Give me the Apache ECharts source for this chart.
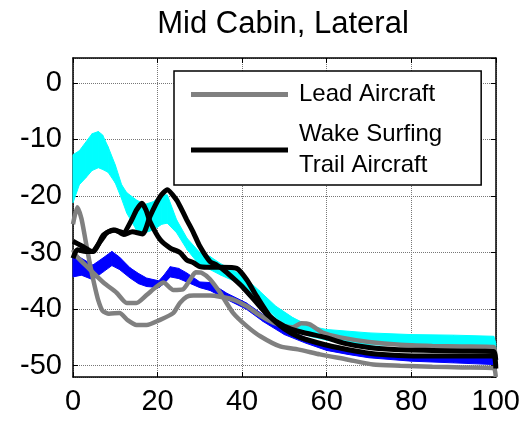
<!DOCTYPE html>
<html>
<head>
<meta charset="utf-8">
<script src="https://cdn.jsdelivr.net/npm/echarts@6/dist/echarts.min.js"></script>
<style>html,body{margin:0;padding:0;background:#fff;}#c{width:523px;height:421px;}</style>
</head>
<body>
<div id="c"></div>
<script>
const titleText = 'Mid Cabin, Lateral';
const legendLead = 'Lead Aircraft';
const legendTrail = 'Wake Surfing\nTrail Aircraft';

// Cyan band (upper / lower bounds)
const cyanX     = [0,1.5,3,4.5,6,7,8.3,10,11.5,12.7,15,17,19,21,22.3,24.5,27,30,32.4,35,38,40.3,44,48,52,56,60,65,70,80,90,99.5,100];
const cyanUpper = [-12.7,-12,-10.5,-9,-8.6,-9.2,-11.3,-14.5,-18,-19.4,-20.7,-21.5,-21,-19.8,-19.8,-24.2,-27.5,-30,-30.7,-32,-33.2,-34.2,-36.7,-39.5,-41.5,-43,-43.6,-43.9,-44.2,-44.5,-44.6,-44.8,-46];
const cyanLower = [-21.2,-18,-16.8,-15.5,-15,-15.3,-15.8,-17.7,-20.5,-23,-26,-26.5,-26,-25,-24.8,-26.5,-29.5,-32.3,-33,-34,-35,-35.7,-38.5,-41.5,-43.5,-44.8,-45.5,-46,-46.3,-46.5,-46.7,-46.8,-47.5];

// Blue band
const blueX     = [0,2,4.7,7,9.2,11,13.5,15.5,17.4,20.3,21.5,23,25,26.9,30,32.4,36.4,41,45,50,55,60,65,70,80,90,99.5,100];
const blueUpper = [-30,-31,-32.2,-31,-29.8,-30.8,-32.7,-33.7,-34.5,-35,-34,-32.5,-32.8,-33.6,-35.2,-35.3,-37.2,-38.9,-41,-43.5,-45,-46.3,-47,-47.6,-48.2,-48.3,-48.4,-49.5];
const blueLower = [-34.3,-34,-34.8,-33.5,-32.3,-33,-34.5,-35.5,-36,-36.2,-35.5,-34.3,-34.6,-35.2,-36.2,-36.7,-38.3,-40,-42.2,-44.5,-46,-47.3,-48,-48.6,-49.2,-49.5,-49.8,-50.5];

// Lead aircraft (gray) runs
const lead1X = [0,1,2,3,4,5,6,7,8.5,11,13,15,17.4,20.6,23.7,25.3,26.9,28.5,32.4,34.8,37.9,41.1,44,47.4,50,52,54,56,59.2,63.2,70,77.4,85,92,99.5,100];
const lead1Y = [-25,-22,-24,-28,-32,-35.5,-38.5,-40.3,-40.8,-40.7,-42,-42.8,-42.8,-41.9,-40.7,-38.9,-37.8,-37.6,-37.6,-37.8,-38.3,-39.5,-41,-42.4,-43,-43.2,-42.5,-42.7,-44.2,-45,-45.8,-46.3,-46.5,-46.6,-46.7,-50];
const lead2X = [0,0.9,4,7.2,10.3,12.7,15,17.4,19.8,21.4,23.7,26,27.7,29,30.5,32.4,34.8,37.9,41.1,44.3,49,53.7,58.4,64.8,71,77.4,85,92,99.5,100];
const lead2Y = [-29.5,-30.7,-33,-35.3,-37.1,-38.9,-38.9,-37.5,-36,-35.3,-36.6,-36.5,-34.8,-33.5,-33.6,-34.7,-37.1,-40.7,-43,-44.8,-46.6,-47.2,-48,-48.9,-49.8,-50,-50.2,-50.3,-50.4,-52];

// Wake surfing trail aircraft (black) runs
const trail1X = [0,2,4.5,6.5,8,10,12,14,16.5,18.2,20.6,22.3,24.5,25.3,26.9,28.5,30,32.4,34,36,38,40,43,46,50,53.7,59.6,64,70,77,85,92,99.5,100];
const trail1Y = [-28,-28.8,-29.8,-28,-26.5,-26,-26.8,-26.3,-26.7,-23.6,-20.1,-18.9,-20.7,-21.8,-24.2,-26.5,-28.9,-31.6,-32.2,-33.3,-34.6,-36,-38.5,-41,-43,-44,-45,-46,-46.8,-47.2,-47.3,-47.4,-47.5,-49];
const trail2X = [0,1,3,4.8,7.2,9.5,11.9,13.9,15,16.3,17.3,18.2,20.6,23,25.3,26.9,28.5,30,31.6,35,38.7,41.1,43.5,46.6,50,53.7,59.6,64,70,77,85,92,99.5,100];
const trail2Y = [-31,-29.5,-29.8,-29.8,-26.9,-26,-26.5,-24.2,-22.5,-21.3,-22.5,-24.5,-27.7,-29.2,-30,-31.3,-31.8,-32.5,-32.6,-32.6,-32.8,-34.8,-37.8,-41.3,-43.5,-45,-46.3,-47,-47.8,-48.2,-48.3,-48.3,-48.3,-50.5];

const xTicks = {min: 0, max: 100, step: 20};
const yRange = {min: -52, max: 4.4, step: 10};

const FONT = 'Liberation Sans, Arial, sans-serif';
const zip = (xs, ys) => xs.map((x, i) => [x, ys[i]]);

// band: one quad per segment between consecutive samples, positioned via api.coord
function band(name, xs, up, lo, color) {
  const segs = [];
  for (let i = 0; i < xs.length - 1; i++) {
    segs.push([xs[i], up[i], lo[i], xs[i + 1], up[i + 1], lo[i + 1]]);
  }
  return {
    name: name, type: 'custom', coordinateSystem: 'cartesian2d', silent: true, z: 1,
    encode: {x: [0, 3], y: [1, 2, 4, 5]},
    data: segs,
    renderItem: function (params, api) {
      const p1 = api.coord([api.value(0), api.value(1)]);
      const p2 = api.coord([api.value(3), api.value(4)]);
      const p3 = api.coord([api.value(3), api.value(5)]);
      const p4 = api.coord([api.value(0), api.value(2)]);
      return {type: 'polygon', shape: {points: [p1, p2, p3, p4]},
              style: {fill: color, stroke: color, lineWidth: 1}};
    }
  };
}
function run(name, xs, ys, color, width, z) {
  return {name: name, type: 'line', data: zip(xs, ys), symbol: 'none', smooth: 0.2,
          lineStyle: {color: color, width: width}, itemStyle: {color: color}, z: z};
}

const chart = echarts.init(document.getElementById('c'), null, {renderer: 'canvas'});
const axisCommon = {
  axisLine: {show: true, onZero: false, lineStyle: {color: '#000', width: 1.5}},
  axisTick: {show: true, inside: true, length: 5, lineStyle: {color: '#000', width: 1}},
};
chart.setOption({
  animation: false,
  backgroundColor: '#fff',
  title: {text: titleText, left: 278, top: 4, textAlign: 'center',
          textStyle: {fontFamily: FONT, fontSize: 31, fontWeight: 'normal', color: '#000'}},
  legend: {
    data: [{name: legendLead, icon: 'rect'}, {name: legendTrail, icon: 'rect'}],
    orient: 'vertical', left: 174, top: 71, itemWidth: 97, itemHeight: 5, itemGap: 9,
    padding: [8, 39, 4, 17], borderColor: '#000', borderWidth: 1.5, backgroundColor: '#fff',
    selectedMode: false,
    textStyle: {fontFamily: FONT, fontSize: 24, color: '#000', lineHeight: 31, padding: [0, 0, 0, 6]}
  },
  grid: {left: 73, right: 27, top: 58, bottom: 44, containLabel: false},
  xAxis: [
    Object.assign({type: 'value', min: xTicks.min, max: xTicks.max, interval: xTicks.step, position: 'bottom',
      axisLabel: {fontFamily: FONT, fontSize: 29, color: '#000', margin: 10},
      splitLine: {show: true, lineStyle: {color: '#777', width: 1, type: 'dotted'}}}, axisCommon),
    Object.assign({type: 'value', min: xTicks.min, max: xTicks.max, interval: xTicks.step, position: 'top',
      axisLabel: {show: false}, splitLine: {show: false}}, axisCommon)
  ],
  yAxis: [
    Object.assign({type: 'value', min: yRange.min, max: yRange.max, minInterval: yRange.step, maxInterval: yRange.step, position: 'left',
      axisLabel: {fontFamily: FONT, fontSize: 29, color: '#000', margin: 11, showMinLabel: false, showMaxLabel: false},
      splitLine: {show: true, lineStyle: {color: '#777', width: 1, type: 'dotted'}}}, axisCommon),
    Object.assign({type: 'value', min: yRange.min, max: yRange.max, minInterval: yRange.step, maxInterval: yRange.step, position: 'right',
      axisLabel: {show: false}, splitLine: {show: false}}, axisCommon)
  ],
  series: [
    band('cyan', cyanX, cyanUpper, cyanLower, '#00ffff'),
    band('blue', blueX, blueUpper, blueLower, '#0000ff'),
    run(legendLead, lead1X, lead1Y, '#808080', 4.5, 3),
    run(legendLead, lead2X, lead2Y, '#808080', 4.5, 3),
    run(legendTrail, trail1X, trail1Y, '#000000', 5, 4),
    run(legendTrail, trail2X, trail2Y, '#000000', 5, 4)
  ]
});
</script>
</body>
</html>
